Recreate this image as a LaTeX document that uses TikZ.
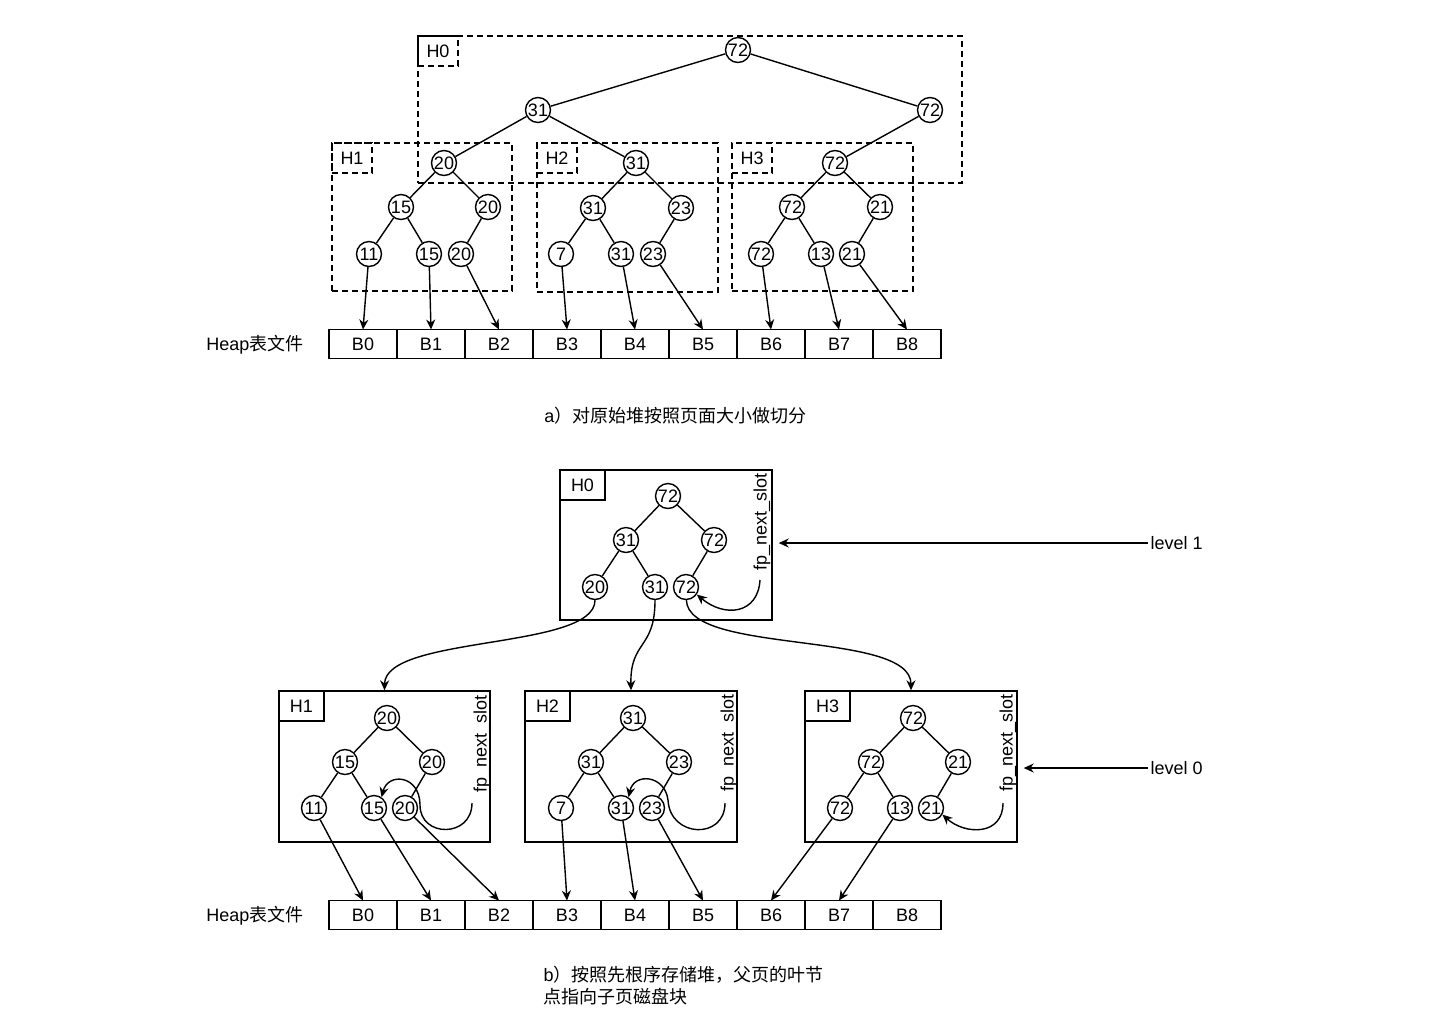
\documentclass[tikz,border=0pt]{standalone}
\usepackage{fontspec}
\setmainfont{Liberation Sans}
\newfontfamily\cjk{Noto Sans CJK SC}
\usetikzlibrary{positioning, arrows.meta, fit}

\begin{document}
\begin{tikzpicture}[
  x=0.5pt, y=-0.5pt,
  font=\fontsize{9}{11}\selectfont,
  line width=0.7pt,
  nd/.style={circle, draw, minimum size=12.5pt, inner sep=0pt},
  pg/.style={draw, inner sep=0pt},
  dpg/.style={pg, dash pattern=on 3pt off 2pt},
  tag/.style={draw, anchor=north west, minimum height=15pt, inner sep=0pt},
  dtag/.style={tag, dash pattern=on 3pt off 2pt, minimum width=20pt},
  ptag/.style={tag, minimum width=22.5pt},
  blk/.style={draw, minimum width=34pt, minimum height=14.5pt, inner sep=0pt, outer sep=0pt},
  arr/.style={-{Stealth[length=5pt, width=4.5pt]}},
  slot/.style={rotate=90, inner sep=1pt},
]
\useasboundingbox (0,0) rectangle (1440,1024);

% ===== a) heap cut into pages =====
\node[dpg, fit={(418,36) (962,183)}] (p0) {};
\node[dtag] (p0t) at (p0.north west) {H0};
\node[dpg, fit={(332,143) (512,291)}] (p1) {};
\node[dtag] (p1t) at (p1.north west) {H1};
\node[dpg, fit={(537,143) (718,292)}] (p2) {};
\node[dtag] (p2t) at (p2.north west) {H2};
\node[dpg, fit={(732,143) (913,291)}] (p3) {};
\node[dtag] (p3t) at (p3.north west) {H3};

\node[nd] (t0) at (738,50)  {72};
\node[nd] (t1) at (538,110) {31};
\node[nd] (t2) at (930,110) {72};

\node[nd] (a0) at (444,163) {20};
\node[nd] (a1) at (401,207) {15};
\node[nd] (a2) at (488,207) {20};
\node[nd] (a3) at (369,254) {11};
\node[nd] (a4) at (429,254) {15};
\node[nd] (a5) at (461,254) {20};

\node[nd] (b0) at (636,163) {31};
\node[nd] (b1) at (593,208) {31};
\node[nd] (b2) at (681,208) {23};
\node[nd] (b3) at (561,254) {7};
\node[nd] (b4) at (621,254) {31};
\node[nd] (b5) at (653,254) {23};

\node[nd] (c0) at (835,163) {72};
\node[nd] (c1) at (792,207) {72};
\node[nd] (c2) at (880,207) {21};
\node[nd] (c3) at (761,254) {72};
\node[nd] (c4) at (821,254) {13};
\node[nd] (c5) at (852,254) {21};

\draw (t0) -- (t1);
\draw (t0) -- (t2);
\draw (t1) -- (a0);
\draw (t1) -- (b0);
\draw (t2) -- (c0);
\foreach \s in {a,b,c} {
  \draw (\s0) -- (\s1);
  \draw (\s0) -- (\s2);
  \draw (\s1) -- (\s3);
  \draw (\s1) -- (\s4);
  \draw (\s2) -- (\s5);
}

% heap file blocks
\foreach \i in {0,...,8}
  \node[blk] (ta\i) at ({363+68*\i},344) {B\i};
\node (heapa) at (255,345) {Heap{\cjk 表文件}};

\foreach \s/\i in {a3/0, a4/1, a5/2, b3/3, b4/4, b5/5, c3/6, c4/7, c5/8}
  \draw[arr] (\s) -- (ta\i.north);

\node[anchor=west] (capa) at (537,416) {a{\cjk ）对原始堆按照页面大小做切分}};

% ===== b) pages stored in preorder =====
\node[pg, fit={(560,470) (772,620)}] (q0) {};
\node[ptag] (q0t) at (q0.north west) {H0};
\node[pg, fit={(279,691) (490,842)}] (q1) {};
\node[ptag] (q1t) at (q1.north west) {H1};
\node[pg, fit={(525,691) (737,842)}] (q2) {};
\node[ptag] (q2t) at (q2.north west) {H2};
\node[pg, fit={(805,691) (1017,842)}] (q3) {};
\node[ptag] (q3t) at (q3.north west) {H3};

\node[nd] (d0) at (668,496) {72};
\node[nd] (d1) at (626,540) {31};
\node[nd] (d2) at (714,540) {72};
\node[nd] (d3) at (595,587) {20};
\node[nd] (d4) at (655,587) {31};
\node[nd] (d5) at (686,587) {72};

\node[nd] (e0) at (387,718) {20};
\node[nd] (e1) at (345,762) {15};
\node[nd] (e2) at (432,762) {20};
\node[nd] (e3) at (314,808) {11};
\node[nd] (e4) at (374,808) {15};
\node[nd] (e5) at (405,808) {20};

\node[nd] (f0) at (633,718) {31};
\node[nd] (f1) at (591,762) {31};
\node[nd] (f2) at (679,762) {23};
\node[nd] (f3) at (561,808) {7};
\node[nd] (f4) at (621,808) {31};
\node[nd] (f5) at (652,808) {23};

\node[nd] (g0) at (913,718) {72};
\node[nd] (g1) at (871,762) {72};
\node[nd] (g2) at (958,762) {21};
\node[nd] (g3) at (840,808) {72};
\node[nd] (g4) at (900,808) {13};
\node[nd] (g5) at (931,808) {21};

\foreach \s in {d,e,f,g} {
  \draw (\s0) -- (\s1);
  \draw (\s0) -- (\s2);
  \draw (\s1) -- (\s3);
  \draw (\s1) -- (\s4);
  \draw (\s2) -- (\s5);
}

% fp_next_slot pointers
\node[slot] (sl0) at (762,522) {fp\_next\_slot};
\node[slot] (sl1) at (482,744) {fp\_next\_slot};
\node[slot] (sl2) at (729,743) {fp\_next\_slot};
\node[slot] (sl3) at (1008,743) {fp\_next\_slot};
\coordinate (k0) at (760,580);
\coordinate (k1) at (472,803);
\coordinate (k2) at (725,803);
\coordinate (k3) at (1003,803);

\draw[arr] (k0) .. controls (758,614) and (725,618) .. (d5.-35);
\draw[arr] (k1) .. controls (472,838) and (420,838) .. (420,805)
               .. controls (420,775) and (388,772) .. (e4.55);
\draw[arr] (k2) .. controls (725,840) and (670,838) .. (668,800)
               .. controls (665,775) and (634,772) .. (f4.55);
\draw[arr] (k3) .. controls (1003,836) and (965,835) .. (g5.-30);

% parent leaves point to child pages
\draw[arr] (d3) .. controls (595,650) and (385,635) .. (q1.north);
\draw[arr] (d4) .. controls (655,650) and (630,640) .. (q2.north);
\draw[arr] (d5) .. controls (688,655) and (911,630) .. (q3.north);

% levels
\node[anchor=west, inner sep=1pt] (lv1) at (1148,543) {level 1};
\node[anchor=west, inner sep=1pt] (lv0) at (1148,768) {level 0};
\path (q0.east) ++(6,0) coordinate (m1);
\path (q3.east) ++(6,0) coordinate (m0);
\draw[arr] (lv1.west) -- (lv1.west -| m1);
\draw[arr] (lv0.west) -- (lv0.west -| m0);

% heap file blocks
\foreach \i in {0,...,8}
  \node[blk] (tb\i) at ({363+68*\i},915) {B\i};
\node (heapb) at (255,916) {Heap{\cjk 表文件}};

\foreach \s/\i in {e3/0, e4/1, e5/2, f3/3, f4/4, f5/5, g3/6, g4/7}
  \draw[arr] (\s) -- (tb\i.north);

\node[anchor=north west, align=left, inner sep=0pt] (capb) at (543,965)
  {b{\cjk ）按照先根序存储堆，父页的叶节}\\{\cjk 点指向子页磁盘块}};

\end{tikzpicture}
\end{document}
